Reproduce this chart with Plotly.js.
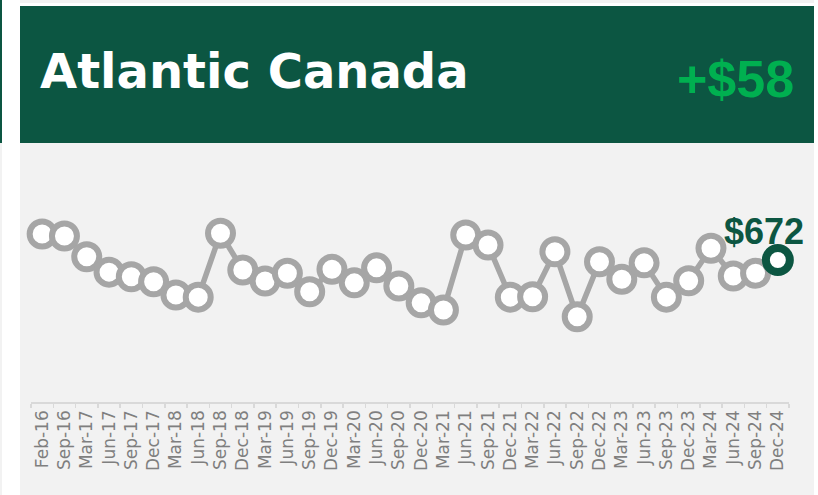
<!DOCTYPE html>
<html>
<head>
<meta charset="utf-8">
<script src="https://cdn.plot.ly/plotly-3.0.1.min.js"></script>
<style>
  html, body { margin: 0; padding: 0; background: #ffffff; }
  #chart { width: 818px; height: 495px; }
</style>
</head>
<body>
<div id="chart"></div>
<script>
const regionName = 'Atlantic Canada';
const headlineChange = '+$58';
const categories = ['Feb-16','Sep-16','Mar-17','Jun-17','Sep-17','Dec-17','Mar-18','Jun-18','Sep-18','Dec-18',
  'Mar-19','Jun-19','Sep-19','Dec-19','Mar-20','Jun-20','Sep-20','Dec-20','Mar-21','Jun-21',
  'Sep-21','Dec-21','Mar-22','Jun-22','Sep-22','Dec-22','Mar-23','Jun-23','Sep-23','Dec-23',
  'Mar-24','Jun-24','Sep-24','Dec-24'];
const values = [745, 739, 681, 638, 625, 611, 574, 568, 747, 644,
  613, 635, 583, 646, 608, 650, 599, 552, 532, 742,
  714, 568, 569, 695, 513, 667, 618, 664, 568, 614,
  705, 627, 635, 672];

const W = 818, H = 495;
const px = x => x / W;
const py = y => 1 - y / H;

const n = values.length;
const lineColors = values.map((v, i) => i === n - 1 ? '#0c5642' : '#a6a6a6');
const lineWidths = values.map((v, i) => i === n - 1 ? 8 : 6);
const sizes = values.map((v, i) => i === n - 1 ? 24 : 25);

const trace = {
  type: 'scatter',
  mode: 'lines+markers',
  x: categories,
  y: values,
  line: { color: '#a6a6a6', width: 5.5 },
  marker: { color: '#ffffff', opacity: 1, size: sizes, line: { color: lineColors, width: lineWidths } },
  hoverinfo: 'skip',
  cliponaxis: false
};

const rect = (x0, y0, x1, y1, color) => ({
  type: 'rect', xref: 'paper', yref: 'paper',
  x0: px(x0), x1: px(x1), y0: py(y1), y1: py(y0),
  fillcolor: color, line: { width: 0 }, layer: 'below'
});

const layout = {
  width: W, height: H,
  margin: { l: 0, r: 0, t: 0, b: 0 },
  paper_bgcolor: '#ffffff',
  plot_bgcolor: 'rgba(0,0,0,0)',
  showlegend: false,
  hovermode: false,
  xaxis: {
    type: 'category',
    domain: [px(31), px(789)],
    range: [-0.5, n - 0.5],
    showgrid: false, zeroline: false,
    showline: true, linecolor: '#d9d9d9', linewidth: 1.5,
    ticks: 'outside', tickson: 'boundaries', ticklen: 4, tickcolor: '#d9d9d9', tickwidth: 1.5,
    tickangle: -90,
    tickfont: { family: 'DejaVu Sans', size: 17, color: '#7f7f7f' },
    fixedrange: true
  },
  yaxis: {
    domain: [py(402), py(150)],
    range: [274.4, 980],
    visible: false,
    fixedrange: true
  },
  shapes: [
    rect(20, 0, 814, 3, '#f2f2f2'),
    rect(20, 143, 814, 495, '#f2f2f2'),
    rect(20, 6, 814, 143, '#0c5642'),
    rect(0, 0, 2, 143, '#0c5642'),
    rect(0, 143, 2, 495, '#f2f2f2')
  ],
  annotations: [
    {
      xref: 'paper', yref: 'paper', x: px(38), y: py(71),
      xanchor: 'left', yanchor: 'middle', showarrow: false,
      text: regionName,
      font: { family: 'DejaVu Sans', size: 48, color: '#ffffff', weight: 700 }
    },
    {
      xref: 'paper', yref: 'paper', x: px(796), y: py(79),
      xanchor: 'right', yanchor: 'middle', showarrow: false,
      text: headlineChange,
      font: { family: 'Liberation Sans', size: 52, color: '#00b050', weight: 700 }
    },
    {
      xref: 'x', yref: 'y', x: categories[n - 1], y: values[n - 1],
      xanchor: 'center', yanchor: 'middle', showarrow: false,
      xshift: -14, yshift: 29,
      text: '$' + values[n - 1],
      font: { family: 'Liberation Sans', size: 36, color: '#0c5642', weight: 700 }
    }
  ]
};

Plotly.newPlot('chart', [trace], layout, { displayModeBar: false, staticPlot: true });
</script>
</body>
</html>
